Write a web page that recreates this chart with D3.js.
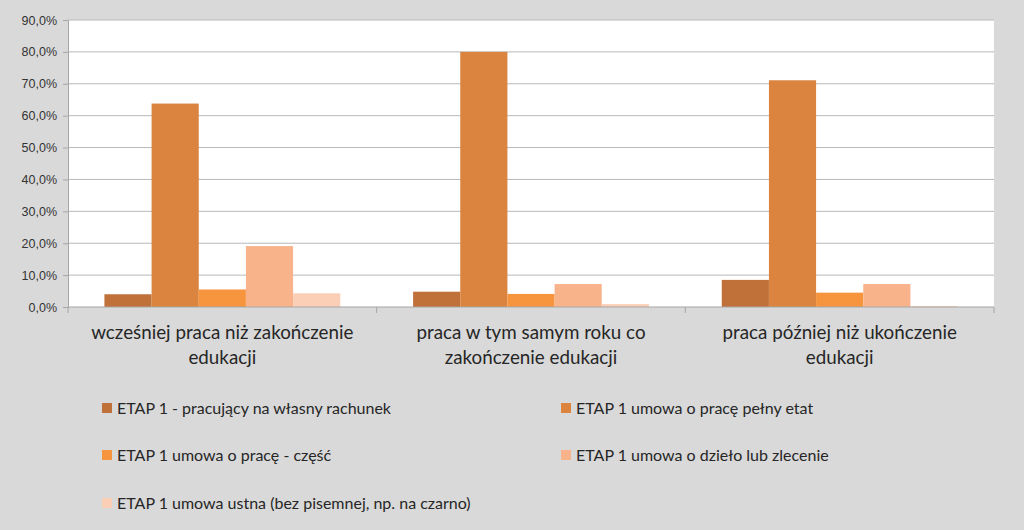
<!DOCTYPE html>
<html>
<head>
<meta charset="utf-8">
<script src="https://cdn.jsdelivr.net/npm/d3@7"></script>
<style>
  body { margin: 0; background: #d9d9d9; }
  svg { display: block; font-family: Lato, "Open Sans", sans-serif; }
</style>
</head>
<body>
<script>
// categories (x axis), split in two lines like the original
const categories = ["wcześniej praca niż zakończenie edukacji", "praca w tym samym roku co zakończenie edukacji", "praca później niż ukończenie edukacji"];
const categoryLines = [
    ["wcześniej praca niż zakończenie", "edukacji"],
    ["praca w tym samym roku co", "zakończenie edukacji"],
    ["praca później niż ukończenie", "edukacji"]
];

const seriesNames = [
    "ETAP 1 - pracujący na własny rachunek",
    "ETAP 1 umowa o pracę pełny etat",
    "ETAP 1 umowa o pracę - część",
    "ETAP 1 umowa o dzieło lub zlecenie",
    "ETAP 1 umowa ustna (bez pisemnej, np. na czarno)"
];
const seriesColors = ["#c0713a", "#da843f", "#f7953f", "#f8b38b", "#fbcfb6"];

// values in %, one array per series (order = categories)
const samozatrudnieni = [4.0, 4.8, 8.5];
const pelnyEtat = [63.8, 80.0, 71.1];
const czescEtatu = [5.5, 4.1, 4.5];
const dzieloZlecenie = [19.1, 7.2, 7.2];
const umowaUstna = [4.3, 0.9, 0.3];
const seriesValues = [samozatrudnieni, pelnyEtat, czescEtatu, dzieloZlecenie, umowaUstna];

const yTicks = [0, 10, 20, 30, 40, 50, 60, 70, 80, 90];

const W = 1024, H = 530;
const plot = { left: 68, right: 994, top: 20, bottom: 307 };

const svg = d3.select("body").append("svg")
    .attr("width", W)
    .attr("height", H);

// white plot area
svg.append("rect")
    .attr("x", plot.left)
    .attr("y", plot.top)
    .attr("width", plot.right - plot.left)
    .attr("height", plot.bottom - plot.top)
    .attr("fill", "#ffffff");

const y = d3.scaleLinear().domain([0, 90]).range([plot.bottom, plot.top]);
const x0 = d3.scaleBand().domain(categories).range([plot.left, plot.right]).padding(0);
const pad = x0.bandwidth() * 0.118;
const x1 = d3.scaleBand().domain(d3.range(seriesNames.length)).range([pad, x0.bandwidth() - pad]).padding(0);

const fmt = v => v.toFixed(1).replace(".", ",") + "%";

// gridlines
svg.append("g")
    .selectAll("line")
    .data(yTicks.filter(t => t > 0))
    .enter()
    .append("line")
    .attr("x1", plot.left)
    .attr("x2", plot.right)
    .attr("y1", d => y(d))
    .attr("y2", d => y(d))
    .attr("stroke", "#b8b8b8")
    .attr("stroke-width", 1);

// y axis
const yAxis = svg.append("g")
    .attr("transform", `translate(${plot.left},0)`)
    .call(d3.axisLeft(y).tickValues(yTicks).tickSize(5).tickPadding(6).tickFormat(fmt));
yAxis.select(".domain").attr("stroke", "#a6a6a6");
yAxis.selectAll(".tick line").attr("stroke", "#a6a6a6");
yAxis.selectAll("text").attr("fill", "#333333").style("font-size", "12.5px");

// bars
const groups = svg.append("g")
    .selectAll("g")
    .data(categories)
    .enter()
    .append("g")
    .attr("transform", d => `translate(${x0(d)},0)`);

groups.selectAll("rect")
    .data((d, i) => seriesValues.map((vals, s) => ({ s: s, v: vals[i] })))
    .enter()
    .append("rect")
    .attr("x", d => x1(d.s))
    .attr("y", d => y(d.v))
    .attr("width", x1.bandwidth())
    .attr("height", d => y(0) - y(d.v))
    .attr("fill", d => seriesColors[d.s]);

// x axis with category separators
const xAxis = svg.append("g")
    .attr("transform", `translate(0,${plot.bottom})`);
xAxis.append("line")
    .attr("x1", plot.left).attr("x2", plot.right)
    .attr("stroke", "#a6a6a6");
xAxis.selectAll("line.sep")
    .data(categories.map(c => x0(c)).concat([plot.right]))
    .enter()
    .append("line")
    .attr("class", "sep")
    .attr("x1", d => d).attr("x2", d => d)
    .attr("y1", 0).attr("y2", 6)
    .attr("stroke", "#a6a6a6");

// category labels
categories.forEach((c, i) => {
    const t = svg.append("text")
        .attr("x", x0(c) + x0.bandwidth() / 2)
        .attr("y", 339)
        .attr("text-anchor", "middle")
        .attr("fill", "#262626")
        .style("font-size", "18.8px");
    categoryLines[i].forEach((line, k) => {
        t.append("tspan")
            .attr("x", x0(c) + x0.bandwidth() / 2)
            .attr("dy", k === 0 ? 0 : 25)
            .text(line);
    });
});

// legend, two columns
const legendPos = [[102, 408], [561, 408], [102, 455], [561, 455], [102, 503]];
const legend = svg.append("g")
    .selectAll("g")
    .data(seriesNames)
    .enter()
    .append("g")
    .attr("transform", (d, i) => `translate(${legendPos[i][0]},${legendPos[i][1]})`);

legend.append("rect")
    .attr("x", 0).attr("y", -5)
    .attr("width", 10).attr("height", 10)
    .attr("fill", (d, i) => seriesColors[i]);

legend.append("text")
    .attr("x", 15)
    .attr("y", 5.5)
    .attr("fill", "#262626")
    .style("font-size", "16px")
    .text(d => d);
</script>
</body>
</html>
